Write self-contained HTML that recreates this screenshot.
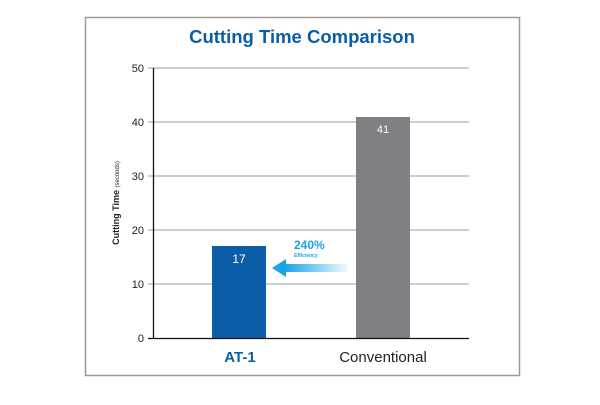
<!DOCTYPE html>
<html><head><style>body{margin:0;background:#fff}</style></head><body>
<svg width="600" height="400" xmlns="http://www.w3.org/2000/svg" font-family="Liberation Sans, sans-serif">
<defs><linearGradient id="g" x1="0" x2="1"><stop offset="0" stop-color="#1aa3e8"/><stop offset="1" stop-color="#1aa3e8" stop-opacity="0.05"/></linearGradient></defs>
<rect x="85.5" y="17.5" width="434" height="358" fill="#fff" stroke="#9a9a9a" stroke-width="1.5"/>
<text x="302" y="43" text-anchor="middle" font-size="18.5" font-weight="bold" fill="#0a5ea8">Cutting Time Comparison</text>
<g stroke="#b0b0b0" stroke-width="1.3">
<line x1="148" x2="469" y1="68" y2="68"/><line x1="148" x2="469" y1="122" y2="122"/><line x1="148" x2="469" y1="176" y2="176"/><line x1="148" x2="469" y1="230" y2="230"/><line x1="148" x2="469" y1="284" y2="284"/>
</g>
<g font-size="11" fill="#222" text-anchor="end">
<text x="144" y="72">50</text><text x="144" y="126">40</text><text x="144" y="180">30</text><text x="144" y="234">20</text><text x="144" y="288">10</text><text x="144" y="342">0</text>
</g>
<text transform="translate(119,203) rotate(-90)" text-anchor="middle" font-size="9" font-weight="bold" fill="#222">Cutting Time <tspan font-size="6" font-weight="normal">(seconds)</tspan></text>
<rect x="212" y="246" width="54" height="92" fill="#0a5ea8"/>
<rect x="356" y="117" width="54" height="221" fill="#7f8083"/>
<line x1="153.5" y1="68" x2="153.5" y2="338" stroke="#111" stroke-width="1.3"/>
<line x1="148" y1="338.5" x2="469" y2="338.5" stroke="#111" stroke-width="1.3"/>
<text x="239" y="263" text-anchor="middle" font-size="12" fill="#fff">17</text>
<text x="383" y="133" text-anchor="middle" font-size="11" fill="#fff">41</text>
<text x="240" y="362" text-anchor="middle" font-size="15" font-weight="bold" fill="#0a5ea8">AT-1</text>
<text x="383" y="362" text-anchor="middle" font-size="15" fill="#222">Conventional</text>
<text x="294" y="249" font-size="12" font-weight="bold" fill="#1aa3e8">240%</text>
<text x="294" y="257" font-size="5" font-weight="bold" fill="#1aa3e8">Efficiency</text>
<rect x="285" y="264" width="63" height="8" fill="url(#g)"/>
<polygon points="272,268 286,259 286,277" fill="#1aa3e8"/>
</svg>
</body></html>
